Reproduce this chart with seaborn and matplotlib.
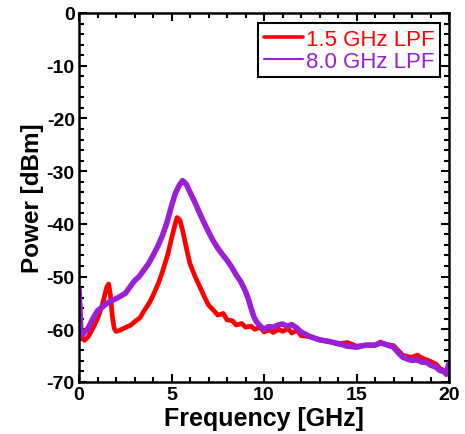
import numpy as np
import pandas as pd
import matplotlib.pyplot as plt
import seaborn as sns
from matplotlib.lines import Line2D
from matplotlib.ticker import MultipleLocator

# values (GHz, dBm)
freq_red = [0.0, 0.15, 0.3, 0.5, 0.75, 1.0, 1.25, 1.5, 1.6, 1.7, 1.8, 1.9, 2.0, 2.2, 2.5, 2.8,
            3.0, 3.3, 3.5, 3.8, 4.0, 4.3, 4.5, 4.8, 5.0, 5.2, 5.3, 5.45, 5.6, 5.8, 6.0, 6.3,
            6.5, 6.8, 7.0, 7.3, 7.5, 7.8, 8.0, 8.3, 8.5, 8.8, 9.0, 9.3, 9.5, 9.8, 10.0, 10.3,
            10.5, 10.8, 11.0, 11.3, 11.5, 11.8, 12.0, 12.5, 13.0, 13.5, 14.0, 14.5, 15.0,
            15.5, 16.0, 16.3, 16.6, 17.0, 17.3, 17.5, 17.8, 18.0, 18.3, 18.5, 18.8, 19.0,
            19.3, 19.5, 19.7, 19.85, 20.0]
power_red = [-60.5, -61.5, -62.1, -61.4, -59.8, -58.0, -55.5, -52.0, -51.4, -53.5, -57.5, -59.8, -60.4, -60.2, -59.7, -59.2,
             -58.6, -57.8, -56.6, -55.0, -53.6, -51.2, -49.2, -45.8, -42.8, -40.0, -38.8, -39.3, -41.2, -44.5, -47.6, -50.2,
             -51.7, -54.0, -55.4, -56.5, -57.3, -57.0, -58.2, -58.4, -59.2, -58.9, -59.6, -59.4, -60.0, -59.6, -60.5, -60.1,
             -60.6, -60.0, -60.4, -59.9, -60.7, -60.2, -61.2, -61.4, -62.0, -62.3, -62.8, -62.5, -63.2,
             -63.0, -63.0, -62.4, -62.9, -63.1, -64.2, -64.9, -65.2, -65.3, -64.9, -65.4, -65.8, -66.1,
             -66.6, -67.4, -67.8, -68.6, -66.5]

freq_purple = [0.0, 0.05, 0.1, 0.2, 0.3, 0.5, 0.75, 1.0, 1.25, 1.5, 1.75, 2.0, 2.25, 2.5, 2.75,
               3.0, 3.25, 3.5, 3.75, 4.0, 4.25, 4.5, 4.75, 5.0, 5.2, 5.4, 5.6, 5.8, 6.0, 6.25,
               6.5, 6.75, 7.0, 7.25, 7.5, 7.75, 8.0, 8.25, 8.5, 8.75, 9.0, 9.15, 9.3, 9.45, 9.6,
               9.8, 10.0, 10.25, 10.5, 10.75, 11.0, 11.25, 11.5, 11.75, 12.0, 12.5, 13.0, 13.5,
               14.0, 14.5, 15.0, 15.5, 16.0, 16.3, 16.6, 17.0, 17.3, 17.5, 17.8, 18.0, 18.3,
               18.5, 18.8, 19.0, 19.3, 19.5, 19.7, 19.85, 20.0]
power_purple = [-52.3, -56.0, -60.5, -61.0, -60.5, -59.8, -58.0, -56.5, -55.8, -55.1, -54.6, -54.2, -53.7, -53.2, -52.0,
                -50.8, -50.0, -48.8, -47.6, -46.0, -44.3, -42.3, -39.8, -36.6, -34.3, -32.8, -31.8, -32.5, -34.0, -35.8,
                -37.8, -39.7, -41.5, -43.2, -44.6, -45.8, -46.9, -48.2, -49.7, -51.0, -52.8, -54.2, -56.0, -57.6, -58.6,
                -59.4, -60.0, -59.5, -59.6, -59.2, -59.0, -59.4, -59.1, -59.7, -60.5, -61.4, -62.0, -62.3,
                -62.7, -63.2, -63.4, -63.0, -63.0, -62.6, -62.9, -63.4, -64.6, -65.3, -65.7, -65.9, -65.8,
                -66.2, -66.3, -66.8, -67.2, -67.8, -68.0, -68.4, -66.5]

labels = ['1.5 GHz LPF', '8.0 GHz LPF']
colors = ['#ff0000', '#9b1fd6']

df = pd.concat([
    pd.DataFrame({'Frequency': freq_red, 'Power': power_red, 'filter': labels[0]}),
    pd.DataFrame({'Frequency': freq_purple, 'Power': power_purple, 'filter': labels[1]}),
])

sns.set_style('ticks')
plt.rcParams['font.family'] = ['Liberation Sans', 'DejaVu Sans']
plt.rcParams['axes.unicode_minus'] = False
plt.rcParams['text.color'] = 'black'
plt.rcParams['axes.labelcolor'] = 'black'
plt.rcParams['xtick.color'] = 'black'
plt.rcParams['ytick.color'] = 'black'

fig = plt.figure(figsize=(4.65, 4.35), dpi=100)
ax = fig.add_axes([79 / 465, 1 - 383 / 435, 370 / 465, 369 / 435])

# red first, purple drawn on top of it
sns.lineplot(data=df[df['filter'] == labels[0]], x='Frequency', y='Power', color=colors[0],
             lw=3.4, ax=ax, legend=False, sort=False)
sns.lineplot(data=df[df['filter'] == labels[1]], x='Frequency', y='Power', color=colors[1],
             lw=4.0, ax=ax, legend=False, sort=False)

ax.set_xlim(0, 20)
ax.set_ylim(-70, 0)
ax.xaxis.set_major_locator(MultipleLocator(5))
ax.xaxis.set_minor_locator(MultipleLocator(1))
ax.yaxis.set_major_locator(MultipleLocator(10))
ax.yaxis.set_minor_locator(MultipleLocator(2))
ax.tick_params(which='both', direction='in', top=True, right=True, width=1.5,
               labelsize=14, pad=3, colors='black')
ax.tick_params(which='major', length=6)
ax.tick_params(which='minor', length=3.5)
for lab in ax.get_xticklabels() + ax.get_yticklabels():
    lab.set_fontweight('bold')
for s in ax.spines.values():
    s.set_linewidth(1.8)
    s.set_color('black')

ax.set_xlabel('Frequency [GHz]', fontsize=18, fontweight='bold', labelpad=2, color='black')
ax.set_ylabel('Power [dBm]', fontsize=17.5, fontweight='bold', labelpad=2, color='black')

handles = [Line2D([], [], color=colors[0], lw=2.6), Line2D([], [], color=colors[1], lw=1.5)]
leg = ax.legend(handles, labels, loc='upper right', bbox_to_anchor=(0.976, 0.973),
                fontsize=16, frameon=True, fancybox=False, framealpha=1,
                edgecolor='black', handlelength=1.75, handletextpad=0.15,
                borderpad=0.25, labelspacing=0.05, borderaxespad=0)
leg.get_frame().set_linewidth(1.5)
for t, c in zip(leg.get_texts(), colors):
    t.set_color(c)

fig.savefig('out.png', dpi=100)
